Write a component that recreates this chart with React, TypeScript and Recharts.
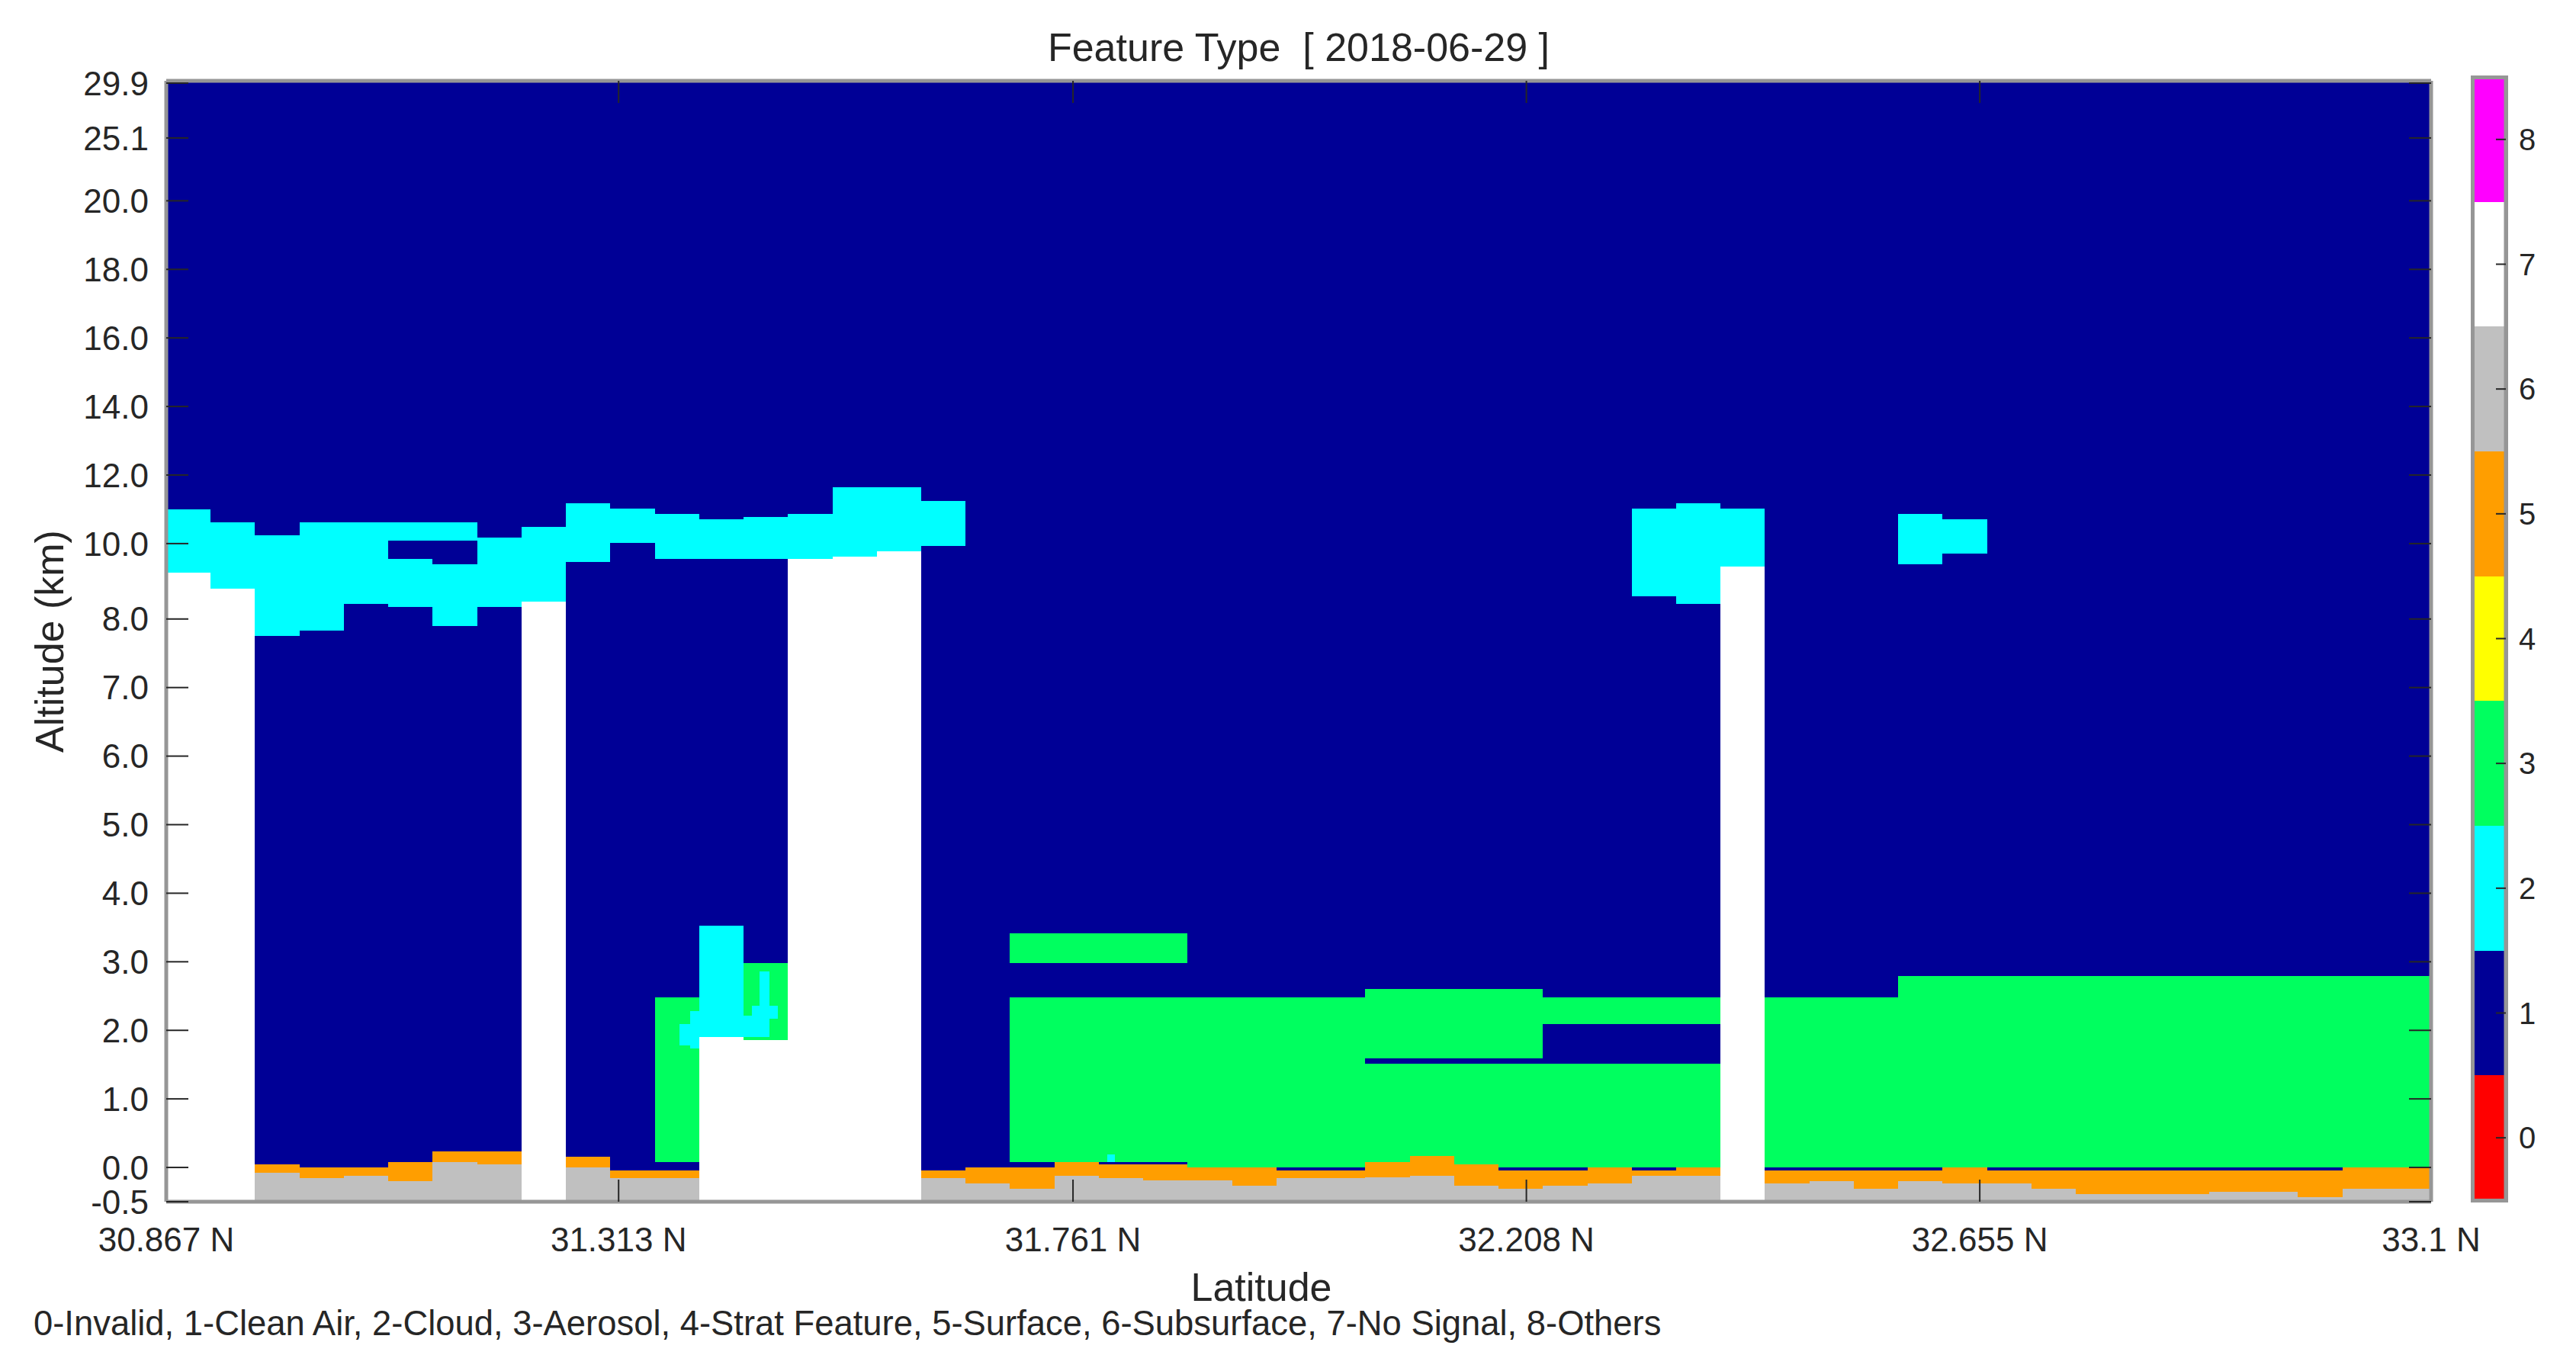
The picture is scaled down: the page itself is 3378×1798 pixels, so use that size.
import { ComposedChart, ReferenceArea, XAxis, YAxis } from 'recharts'

const FONT = '"Liberation Sans", Arial, sans-serif'
const TEXT = '#262626'
const AXIS_GRAY = '#969696'

// feature type classes, code = index
const FEATURE_NAMES = ['Invalid', 'Clean Air', 'Cloud', 'Aerosol', 'Strat Feature', 'Surface', 'Subsurface', 'No Signal', 'Others']
const FEATURE_COLORS = ['#ff0000', '#000096', '#00ffff', '#00ff5f', '#ffff00', '#ff9e00', '#c0c0c0', '#ffffff', '#ff00ff']
const FEATURE_CODES = [0, 1, 2, 3, 4, 5, 6, 7, 8]

const LAT_START = 30.867
const LAT_END = 33.1
const PROFILES = 51
const LAT_TICKS = [30.867, 31.313, 31.761, 32.208, 32.655, 33.1]

const ALT_BOTTOM = -0.5
const ALT_TOP = 30.1
const ALT_TICKS = [-0.5, 0, 1, 2, 3, 4, 5, 6, 7, 8, 10, 12, 14, 16, 18, 20, 25.1, 29.9]

// surface return per profile (km), null = fully attenuated / no signal column
const surfaceTop = [
  null, null, 0.04, 0.0, 0.0, 0.08, 0.23, 0.23, null, 0.16,
  -0.04, -0.04, null, null, null, null, null, -0.04, 0.0, 0.0,
  0.08, 0.04, 0.04, 0.0, 0.0, -0.04, -0.04, 0.08, 0.17, 0.04,
  -0.04, -0.04, 0.0, -0.04, 0.0, null, -0.04, -0.04, -0.04, -0.04,
  0.04, -0.04, -0.04, -0.04, -0.04, -0.04, -0.04, -0.04, -0.04, 0.04, 0.0,
]
const surfaceBase = [
  null, null, -0.08, -0.16, -0.12, -0.2, 0.08, 0.04, null, 0.0,
  -0.16, -0.16, null, null, null, null, null, -0.16, -0.23, -0.31,
  -0.12, -0.16, -0.19, -0.19, -0.27, -0.16, -0.16, -0.14, -0.12, -0.27,
  -0.31, -0.27, -0.23, -0.12, -0.12, null, -0.23, -0.2, -0.31, -0.2,
  -0.23, -0.23, -0.31, -0.39, -0.39, -0.39, -0.35, -0.35, -0.43, -0.31, -0.31,
]

// [first profile, end profile, base km, top km]
const cloudLayers = [
  [0, 1, 9.15, 11.0], [1, 2, 8.69, 10.63], [2, 3, 7.75, 10.25], [3, 4, 7.83, 10.63],
  [4, 5, 8.23, 10.63], [5, 6, 8.18, 9.55], [5, 6, 10.09, 10.63], [6, 7, 7.9, 9.39],
  [6, 7, 10.09, 10.63], [7, 8, 8.18, 10.17], [8, 9, 8.31, 10.48], [9, 10, 9.47, 11.17],
  [10, 11, 10.01, 11.01], [11, 12, 9.55, 10.87], [12, 13, 9.55, 10.71], [13, 14, 9.55, 10.78],
  [14, 15, 9.55, 10.87], [15, 16, 9.62, 11.64], [16, 17, 9.78, 11.64], [17, 18, 9.93, 11.25],
  [11.56, 11.8, 1.78, 2.09], [11.8, 12, 1.74, 2.28], [12, 13, 1.9, 3.53],
  [13, 13.59, 1.9, 2.21], [13.18, 13.78, 2.17, 2.36], [13.36, 13.59, 2.21, 2.86],
  [21.19, 21.36, 0.08, 0.19],
  [33, 34, 8.46, 11.01], [34, 35, 8.23, 11.17], [35, 36, 9.32, 11.01],
  [39, 40, 9.39, 10.87], [40, 41, 9.7, 10.71],
]
const aerosolLayers = [
  [11, 12, 0.08, 2.48], [13, 14, 1.86, 2.98],
  [19, 23, 2.98, 3.41], [19, 23, 0.08, 2.48], [23, 27, 0.0, 2.48],
  [27, 31, 1.59, 2.6], [27, 28, 0.08, 1.51], [28, 29, 0.17, 1.51], [29, 30, 0.04, 1.51], [30, 31, 0.0, 1.51],
  [31, 35, 2.09, 2.48], [31, 35, 0.0, 1.51],
  [36, 39, 0.0, 2.48], [39, 51, 0.0, 2.79],
]
const noSignalLayers = [
  [0, 1, -0.5, 9.15], [1, 2, -0.5, 8.69], [8, 9, -0.5, 8.31], [12, 13, -0.5, 1.9],
  [13, 14, -0.5, 1.86], [14, 15, -0.5, 9.55], [15, 16, -0.5, 9.62], [16, 17, -0.5, 9.78],
  [35, 36, -0.5, 9.32],
]

const profileLat = (k: number) => LAT_START + (k * (LAT_END - LAT_START)) / PROFILES

// VFM altitude grid: 30 m bins below 8.2 km, 60 m to 20.2 km, 180 m above
function altToAxis(km: number) {
  if (km <= 8.2) return km
  if (km <= 20.2) return 8.2 + (km - 8.2) / 2
  return 14.2 + (km - 20.2) / 6
}

type Cell = { k0: number; k1: number; base: number; top: number; code: number }

function buildCells(): Cell[] {
  const cells: Cell[] = [{ k0: 0, k1: PROFILES, base: ALT_BOTTOM, top: ALT_TOP, code: 1 }]
  surfaceBase.forEach((b, k) => {
    if (b === null) return
    cells.push({ k0: k, k1: k + 1, base: ALT_BOTTOM, top: b, code: 6 })
    cells.push({ k0: k, k1: k + 1, base: b, top: surfaceTop[k] as number, code: 5 })
  })
  aerosolLayers.forEach(([k0, k1, base, top]) => cells.push({ k0, k1, base, top, code: 3 }))
  cloudLayers.forEach(([k0, k1, base, top]) => cells.push({ k0, k1, base, top, code: 2 }))
  noSignalLayers.forEach(([k0, k1, base, top]) => cells.push({ k0, k1, base, top, code: 7 }))
  return cells
}

const cells = buildCells()
// one row per profile edge so the latitude axis has a domain to work with
const profileRows = Array.from({ length: PROFILES + 1 }, (_, k) => ({ lat: Math.min(profileLat(k), LAT_END) }))
const barRows = FEATURE_CODES.map((code) => ({ x: 0.5, code }))

const legendText = FEATURE_NAMES.map((n, i) => `${i}-${n}`).join(', ')
const altLabel = (v: number) => {
  const t = ALT_TICKS.find((a) => Math.abs(altToAxis(a) - v) < 1e-6)
  return t === undefined ? '' : t.toFixed(1)
}

const tickStyle = { fontSize: 44, fill: TEXT, fontFamily: FONT }
const tickLine = { stroke: TEXT, strokeWidth: 2 }
const axisLine = { stroke: AXIS_GRAY, strokeWidth: 5 }

export default function App() {
  return (
    <div style={{ position: 'absolute', left: 0, top: 0, width: 3378, height: 1798, background: '#fff', fontFamily: FONT, color: TEXT }}>
      <style>{'.vfm path { shape-rendering: crispEdges; }'}</style>
      <div style={{ position: 'absolute', left: 1103, width: 1200, top: 36, textAlign: 'center', fontSize: 52, lineHeight: '52px', whiteSpace: 'pre' }}>
        {'Feature Type  [ 2018-06-29 ]'}
      </div>
      <div style={{ position: 'absolute', left: 65 - 300, width: 600, top: 841 - 26, textAlign: 'center', fontSize: 52, lineHeight: '52px', transform: 'rotate(-90deg)' }}>
        Altitude (km)
      </div>
      <div style={{ position: 'absolute', left: 1654 - 300, width: 600, top: 1668, textAlign: 'center', fontSize: 52, lineHeight: '40px' }}>
        Latitude
      </div>
      <div style={{ position: 'absolute', left: 44, top: 1720, fontSize: 45.4, lineHeight: '32px', whiteSpace: 'pre' }}>
        {legendText}
      </div>

      <div style={{ position: 'absolute', left: 0, top: 0 }}>
        <ComposedChart className="vfm" data={profileRows} width={3378} height={1798} margin={{ top: 105, right: 189, bottom: 162, left: 158 }}>
          {cells.map((c, i) => (
            <ReferenceArea
              key={i}
              xAxisId="lat"
              yAxisId="alt"
              x1={profileLat(c.k0)}
              x2={Math.min(profileLat(c.k1), LAT_END)}
              y1={altToAxis(c.base)}
              y2={altToAxis(c.top)}
              fill={FEATURE_COLORS[c.code]}
              fillOpacity={1}
              stroke="none"
              ifOverflow="visible"
            />
          ))}
          <XAxis
            xAxisId="lat"
            dataKey="lat"
            type="number"
            orientation="bottom"
            domain={[LAT_START, LAT_END]}
            allowDataOverflow
            ticks={LAT_TICKS}
            interval={0}
            height={60}
            tickSize={-29}
            tickMargin={63}
            tick={tickStyle}
            tickLine={tickLine}
            axisLine={axisLine}
            tickFormatter={(v: number) => `${v} N`}
          />
          <XAxis
            xAxisId="latTop"
            dataKey="lat"
            type="number"
            orientation="top"
            domain={[LAT_START, LAT_END]}
            allowDataOverflow
            ticks={LAT_TICKS}
            interval={0}
            height={1}
            tickSize={-29}
            tickLine={tickLine}
            axisLine={axisLine}
            tickFormatter={() => ''}
          />
          <YAxis
            yAxisId="alt"
            type="number"
            domain={[altToAxis(ALT_BOTTOM), altToAxis(ALT_TOP)]}
            allowDataOverflow
            ticks={ALT_TICKS.map(altToAxis)}
            interval={0}
            width={60}
            tickSize={-29}
            tickMargin={52}
            tick={tickStyle}
            tickLine={tickLine}
            axisLine={axisLine}
            tickFormatter={altLabel}
          />
          <YAxis
            yAxisId="altRight"
            orientation="right"
            type="number"
            domain={[altToAxis(ALT_BOTTOM), altToAxis(ALT_TOP)]}
            allowDataOverflow
            ticks={ALT_TICKS.map(altToAxis)}
            interval={0}
            width={1}
            tickSize={-29}
            tickLine={tickLine}
            axisLine={axisLine}
            tickFormatter={() => ''}
          />
        </ComposedChart>
      </div>

      <div style={{ position: 'absolute', left: 3150, top: 0 }}>
        <ComposedChart className="vfm" data={barRows} width={228} height={1798} margin={{ top: 101, right: 32, bottom: 224, left: 92 }}>
          {FEATURE_CODES.map((code) => (
            <ReferenceArea
              key={code}
              xAxisId="bar"
              yAxisId="code"
              x1={0}
              x2={1}
              y1={code - 0.5}
              y2={code + 0.5}
              fill={FEATURE_COLORS[code]}
              fillOpacity={1}
              stroke="none"
              ifOverflow="visible"
            />
          ))}
          <ReferenceArea xAxisId="bar" yAxisId="code" x1={0} x2={1} y1={-0.5} y2={8.5} fill="none" fillOpacity={0} stroke={AXIS_GRAY} strokeWidth={5} ifOverflow="visible" />
          <XAxis xAxisId="bar" dataKey="x" type="number" domain={[0, 1]} allowDataOverflow hide />
          <YAxis
            yAxisId="code"
            dataKey="code"
            orientation="right"
            type="number"
            domain={[-0.5, 8.5]}
            allowDataOverflow
            ticks={FEATURE_CODES}
            interval={0}
            width={60}
            tickSize={-13}
            tickMargin={30}
            tick={{ fontSize: 40, fill: TEXT, fontFamily: FONT }}
            tickLine={tickLine}
            axisLine={axisLine}
          />
        </ComposedChart>
      </div>
    </div>
  )
}
